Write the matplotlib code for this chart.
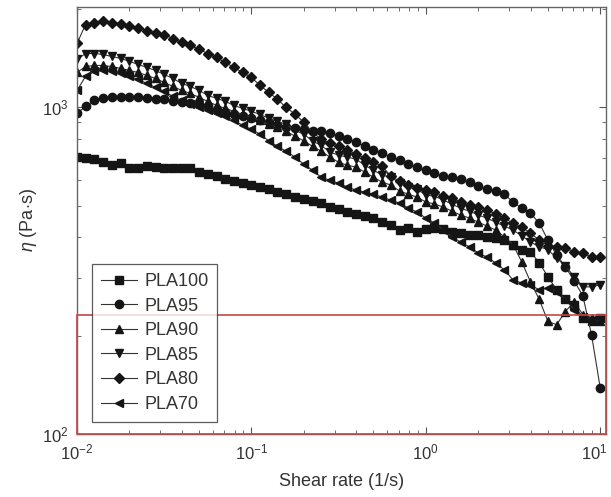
import matplotlib
matplotlib.use("Agg")
import matplotlib.pyplot as plt
import matplotlib.transforms as mtransforms
from matplotlib.patches import Rectangle

plt.rcParams['font.family'] = ['Liberation Sans', 'DejaVu Sans']
plt.rcParams['mathtext.fontset'] = 'custom'
plt.rcParams['mathtext.rm'] = 'Liberation Sans'
plt.rcParams['mathtext.it'] = 'Liberation Sans:italic'

# shear rate (1/s), 20 points per decade
shear_rate = [0.01, 0.0112, 0.0126, 0.0141, 0.0158, 0.0178, 0.02, 0.0224, 0.0251, 0.0282,
              0.0316, 0.0355, 0.0398, 0.0447, 0.0501, 0.0562, 0.0631, 0.0708, 0.0794, 0.0891,
              0.1, 0.112, 0.126, 0.141, 0.158, 0.178, 0.2, 0.224, 0.251, 0.282,
              0.316, 0.355, 0.398, 0.447, 0.501, 0.562, 0.631, 0.708, 0.794, 0.891,
              1.0, 1.12, 1.26, 1.41, 1.58, 1.78, 2.0, 2.24, 2.51, 2.82,
              3.16, 3.55, 3.98, 4.47, 5.01, 5.62, 6.31, 7.08, 7.94, 8.91, 10.0]

# viscosity (Pa s)
pla100 = [704, 699, 694, 679, 665, 674, 651, 651, 660, 656,
          651, 651, 651, 651, 633, 624, 615, 602, 594, 586,
          578, 570, 562, 550, 542, 531, 524, 517, 509, 495,
          488, 478, 471, 465, 458, 445, 436, 421, 427, 415,
          424, 427, 424, 415, 412, 407, 407, 401, 398, 393,
          380, 367, 361, 334, 303, 276, 258, 249, 227, 221, 227]
pla95 = [958, 1007, 1051, 1066, 1073, 1073, 1073, 1073, 1066, 1058,
         1058, 1043, 1036, 1029, 1021, 1007, 979, 965, 952, 938,
         925, 912, 900, 881, 869, 863, 857, 845, 845, 833,
         816, 799, 782, 760, 739, 724, 704, 689, 669, 656,
         642, 628, 615, 611, 602, 590, 574, 562, 554, 542,
         513, 491, 474, 442, 392, 353, 325, 294, 265, 201, 138]
pla90 = [1279, 1334, 1344, 1344, 1334, 1316, 1297, 1279, 1253, 1226,
         1192, 1159, 1127, 1103, 1073, 1043, 1014, 993, 972, 952,
         932, 912, 887, 869, 845, 816, 789, 760, 734, 704,
         679, 665, 656, 633, 611, 590, 578, 554, 542, 531,
         513, 506, 495, 481, 468, 458, 445, 433, 421, 401,
         380, 336, 292, 258, 221, 216, 237, 254, 232, 227, 221]
pla85 = [1402, 1462, 1462, 1452, 1432, 1412, 1383, 1354, 1325, 1297,
         1261, 1226, 1184, 1159, 1127, 1088, 1066, 1043, 1014, 993,
         972, 952, 925, 906, 887, 850, 827, 789, 765, 729,
         714, 704, 694, 665, 642, 620, 611, 586, 570, 562,
         538, 535, 520, 506, 491, 481, 468, 458, 445, 433,
         421, 404, 387, 374, 367, 345, 327, 303, 282, 282, 286]
pla80 = [1569, 1793, 1819, 1845, 1819, 1806, 1781, 1756, 1719, 1695,
         1671, 1625, 1580, 1547, 1504, 1462, 1422, 1373, 1325, 1279,
         1235, 1167, 1111, 1058, 1000, 952, 900, 839, 799, 777,
         760, 739, 719, 699, 679, 660, 615, 594, 578, 566,
         558, 550, 535, 527, 513, 502, 495, 485, 471, 458,
         442, 430, 412, 392, 377, 374, 371, 361, 358, 348, 348]
pla70 = [1127, 1244, 1288, 1297, 1288, 1270, 1244, 1218, 1184, 1151,
         1119, 1080, 1051, 1021, 1000, 979, 958, 938, 912, 881,
         857, 827, 789, 760, 734, 704, 669, 642, 611, 598,
         586, 570, 558, 550, 542, 531, 520, 509, 491, 478,
         458, 442, 421, 401, 387, 374, 358, 348, 334, 318,
         296, 290, 286, 276, 280, 272, 258, 240, 228, 223, 227]

series = [("PLA100", pla100, 's'), ("PLA95", pla95, 'o'), ("PLA90", pla90, '^'),
          ("PLA85", pla85, 'v'), ("PLA80", pla80, 'D'), ("PLA70", pla70, '<')]

x_ticks = [0.01, 0.1, 1, 10]
x_ticklabels = [r'$10^{-2}$', r'$10^{-1}$', r'$10^{0}$', r'$10^{1}$']

fig = plt.figure(figsize=(6.11, 4.97), dpi=100)
ax = fig.add_axes([0.126, 0.127, 0.866, 0.859])

for name, vals, mk in series:
    ms = 5.0 if mk == 'D' else 6.0
    ax.plot(shear_rate, vals, color='#333333', lw=0.8, marker=mk, ms=ms,
            mfc='#151515', mec='#151515', label=name)

ax.set_xscale('log')
ax.set_yscale('log')
ax.set_xlim(0.01, 10.8)
ax.set_ylim(100, 2030)

ax.tick_params(which='both', direction='in', top=True, right=True,
               colors='#555555', labelcolor='#333333', labelsize=12)
ax.tick_params(which='major', length=5, pad=6)
ax.tick_params(which='minor', length=3)
for s in ax.spines.values():
    s.set_color('#666666')
    s.set_linewidth(1.0)

# last x label drawn by hand, nudged left so it stays inside the figure
ax.set_xticks(x_ticks)
ax.set_xticklabels(x_ticklabels[:-1] + [''])
ax.annotate(x_ticklabels[-1], xy=(x_ticks[-1], 0), xycoords=('data', 'axes fraction'),
            xytext=(-4, -6), textcoords='offset points', ha='center', va='top',
            fontsize=12, color='#333333')

ax.set_xlabel('Shear rate (1/s)', fontsize=13, color='#333333', labelpad=8)
ax.set_ylabel(r'$\eta$ (Pa$\cdot$s)', fontsize=13, color='#333333', labelpad=2)

# red highlight box
trans = mtransforms.blended_transform_factory(ax.transAxes, ax.transData)
ax.add_patch(Rectangle((0, 100), 1.0, 131, transform=trans, fill=False,
                       edgecolor='#c04848', lw=1.2, zorder=5, clip_on=False))

leg = ax.legend(loc='lower left', bbox_to_anchor=(0.028, 0.028), borderaxespad=0,
                fontsize=13, frameon=True, fancybox=False, numpoints=1,
                handlelength=2.0, labelspacing=0.42, borderpad=0.5, handletextpad=0.4)
leg.get_frame().set_edgecolor('#333333')
leg.get_frame().set_linewidth(0.9)
for t in leg.get_texts():
    t.set_color('#333333')

fig.savefig('out.png', dpi=100)
